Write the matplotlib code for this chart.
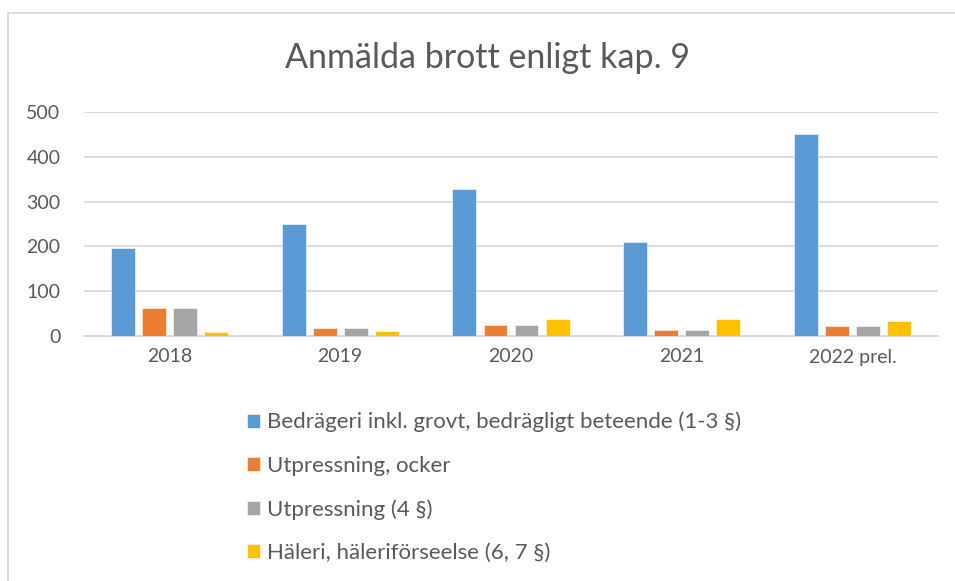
import numpy as np
import matplotlib.pyplot as plt
from matplotlib.patches import Rectangle

plt.rcParams['font.family'] = ['Lato', 'DejaVu Sans']

years = ['2018', '2019', '2020', '2021', '2022 prel.']
bedrageri = [196, 249, 328, 209, 451]
utpressning_ocker = [63, 17, 25, 14, 23]
utpressning_4 = [63, 17, 25, 14, 23]
haleri = [10, 11, 38, 39, 34]

labels = ['Bedrägeri inkl. grovt, bedrägligt beteende (1-3 §)',
          'Utpressning, ocker',
          'Utpressning (4 §)',
          'Häleri, häleriförseelse (6, 7 §)']
colors = ['#5B9BD5', '#ED7D31', '#A5A5A5', '#FFC000']
series = [bedrageri, utpressning_ocker, utpressning_4, haleri]

fig = plt.figure(figsize=(9.55, 5.81), dpi=100)
ax = fig.add_axes([84/955, 1 - 336/581, (938 - 84)/955, (336 - 112)/581])

x = np.arange(len(years))
w = 0.14
step = 0.182
for i, (vals, lab, c) in enumerate(zip(series, labels, colors)):
    ax.bar(x + (i - 1.5)*step, vals, w, color=c, label=lab, zorder=3,
           edgecolor='white', linewidth=0.4)

ax.set_xlim(-0.5, len(years) - 0.5)
ax.set_ylim(0, 500)
ax.set_yticks(range(0, 501, 100))
ax.set_xticks(x)
ax.set_xticklabels(years)
ax.grid(axis='y', color='#d9d9d9', linewidth=1.3, zorder=0)
for s in ['top', 'right', 'left']:
    ax.spines[s].set_visible(False)
ax.spines['bottom'].set_color('#d9d9d9')
ax.spines['bottom'].set_linewidth(1.3)
ax.tick_params(axis='both', length=0, labelsize=14, labelcolor='#595959')
ax.tick_params(axis='y', pad=17)
ax.tick_params(axis='x', pad=9)

fig.text(487/955, 1 - 58/581, 'Anmälda brott enligt kap. 9', ha='center', va='center',
         fontsize=24.5, color='#595959')

fig.legend(loc='upper left', bbox_to_anchor=(238/955, 1 - 403/581), frameon=False,
           fontsize=16, labelcolor='#595959', handlelength=0.6, handleheight=0.6,
           handletextpad=0.3, labelspacing=1.05, borderaxespad=0)

fig.patches.append(Rectangle((8/955, -0.1), 1, 1.1 - 13/581, transform=fig.transFigure,
                             fill=False, edgecolor='#d9d9d9', linewidth=1.3))

fig.savefig('out.png', dpi=100)
